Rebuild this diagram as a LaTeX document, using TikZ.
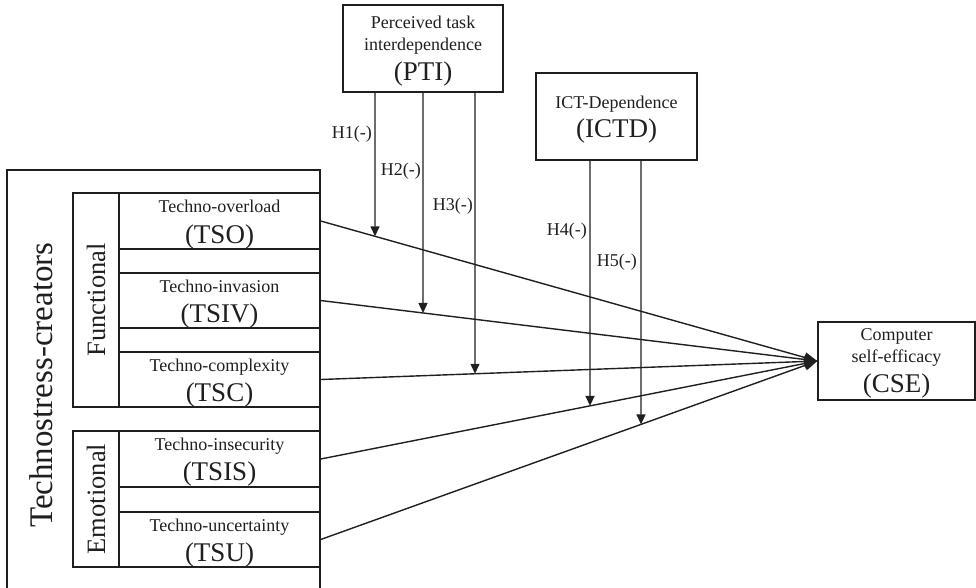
\documentclass[tikz,border=0pt]{standalone}
\usepackage{fontspec}
\setmainfont{Liberation Serif}
\usetikzlibrary{arrows.meta,calc,intersections}
\begin{document}
\begin{tikzpicture}[x=1pt,y=-1pt,
  ink/.style={draw=black!88, line width=1.4pt},
  box/.style={ink, rectangle, inner sep=0pt},
  sm/.style={font=\fontsize{18}{21}\selectfont, inner sep=0pt, text=black!88},
  bg/.style={font=\fontsize{27}{30}\selectfont, inner sep=0pt, text=black!88},
  ttl/.style={font=\fontsize{33}{36}\selectfont, inner sep=0pt, text=black!88, rotate=90},
  grp/.style={box, font=\fontsize{26.5}{30}\selectfont, text=black!88, rotate=90},
  conn/.style={ink, -{Triangle[length=13pt,width=10pt]}},
  harrow/.style={ink, -{Triangle[length=10pt,width=9pt]}},
  hlab/.style={sm, anchor=base east},
]
\useasboundingbox (0,0) rectangle (976,587);

% outer frame (bottom edge lies below the picture)
\node[box, minimum width=313pt, minimum height=430pt] (outer) at (163.5,385) {};
\node[ttl] (title) at (41,385) {Technostress-creators};

% group columns
\node[grp, minimum width=214pt, minimum height=46pt] (funccol) at (96,300) {Functional};
\node[grp, minimum width=136pt, minimum height=46pt] (emocol) at (96,499) {Emotional};

% creator boxes
\node[box, minimum width=201pt, minimum height=56pt] (tso)  at (219.5,221) {};
\node[box, minimum width=201pt, minimum height=55pt] (tsiv) at (219.5,300.5) {};
\node[box, minimum width=201pt, minimum height=55pt] (tsc)  at (219.5,379.5) {};
\node[box, minimum width=201pt, minimum height=56pt] (tsis) at (219.5,459) {};
\node[box, minimum width=201pt, minimum height=55pt] (tsu)  at (219.5,539.5) {};

\node[sm, anchor=base] (tso1)  at (219.5,212) {Techno-overload};
\node[bg, anchor=base] (tso2)  at (219.5,243) {(TSO)};
\node[sm, anchor=base] (tsiv1) at (219.5,292) {Techno-invasion};
\node[bg, anchor=base] (tsiv2) at (219.5,322) {(TSIV)};
\node[sm, anchor=base] (tsc1)  at (219.5,371) {Techno-complexity};
\node[bg, anchor=base] (tsc2)  at (219.5,401) {(TSC)};
\node[sm, anchor=base] (tsis1) at (219.5,450) {Techno-insecurity};
\node[bg, anchor=base] (tsis2) at (219.5,480) {(TSIS)};
\node[sm, anchor=base] (tsu1)  at (219.5,531) {Techno-uncertainty};
\node[bg, anchor=base] (tsu2)  at (219.5,561) {(TSU)};

% moderators
\node[box, minimum width=160pt, minimum height=87pt] (pti) at (423,48.5) {};
\node[sm, anchor=base] (pti1) at (423,28) {Perceived task};
\node[sm, anchor=base] (pti2) at (423,50) {interdependence};
\node[bg, anchor=base] (pti3) at (423,80) {(PTI)};

\node[box, minimum width=161pt, minimum height=87pt] (ictd) at (616.5,116.5) {};
\node[sm, anchor=base] (ictd1) at (616.5,108) {ICT-Dependence};
\node[bg, anchor=base] (ictd2) at (616.5,137) {(ICTD)};

% outcome
\node[box, minimum width=157pt, minimum height=78pt] (cse) at (896.5,361) {};
\node[sm, anchor=base] (cse1) at (896.5,340) {Computer};
\node[sm, anchor=base] (cse2) at (896.5,362) {self-efficacy};
\node[bg, anchor=base] (cse3) at (896.5,392) {(CSE)};

% main paths
\draw[conn, name path=L1] (tso.east)  -- (cse.west);
\draw[conn, name path=L2] (tsiv.east) -- (cse.west);
\draw[conn, name path=L3] (tsc.east)  -- (cse.west);
\draw[conn, name path=L4] (tsis.east) -- (cse.west);
\draw[conn, name path=L5] (tsu.east)  -- (cse.west);

% moderating arrows
\coordinate (a1) at ($(pti.south)+(-48,0)$);
\coordinate (a2) at ($(pti.south)+(0,0)$);
\coordinate (a3) at ($(pti.south)+(52,0)$);
\coordinate (a4) at ($(ictd.south)+(-26.5,0)$);
\coordinate (a5) at ($(ictd.south)+(24.5,0)$);
\path[name path=V1] (a1) -- ++(0,600);
\path[name path=V2] (a2) -- ++(0,600);
\path[name path=V3] (a3) -- ++(0,600);
\path[name path=V4] (a4) -- ++(0,600);
\path[name path=V5] (a5) -- ++(0,600);
\path[name intersections={of=L1 and V1, by={b1}}];
\path[name intersections={of=L2 and V2, by={b2}}];
\path[name intersections={of=L3 and V3, by={b3}}];
\path[name intersections={of=L4 and V4, by={b4}}];
\path[name intersections={of=L5 and V5, by={b5}}];
\draw[harrow] (a1) -- (b1);
\draw[harrow] (a2) -- (b2);
\draw[harrow] (a3) -- (b3);
\draw[harrow] (a4) -- (b4);
\draw[harrow] (a5) -- (b5);

\node[hlab] (h1) at (372,138) {H1(-)};
\node[hlab] (h2) at (421,175) {H2(-)};
\node[hlab] (h3) at (473,210) {H3(-)};
\node[hlab] (h4) at (587,235) {H4(-)};
\node[hlab] (h5) at (637,266) {H5(-)};
\end{tikzpicture}
\end{document}
